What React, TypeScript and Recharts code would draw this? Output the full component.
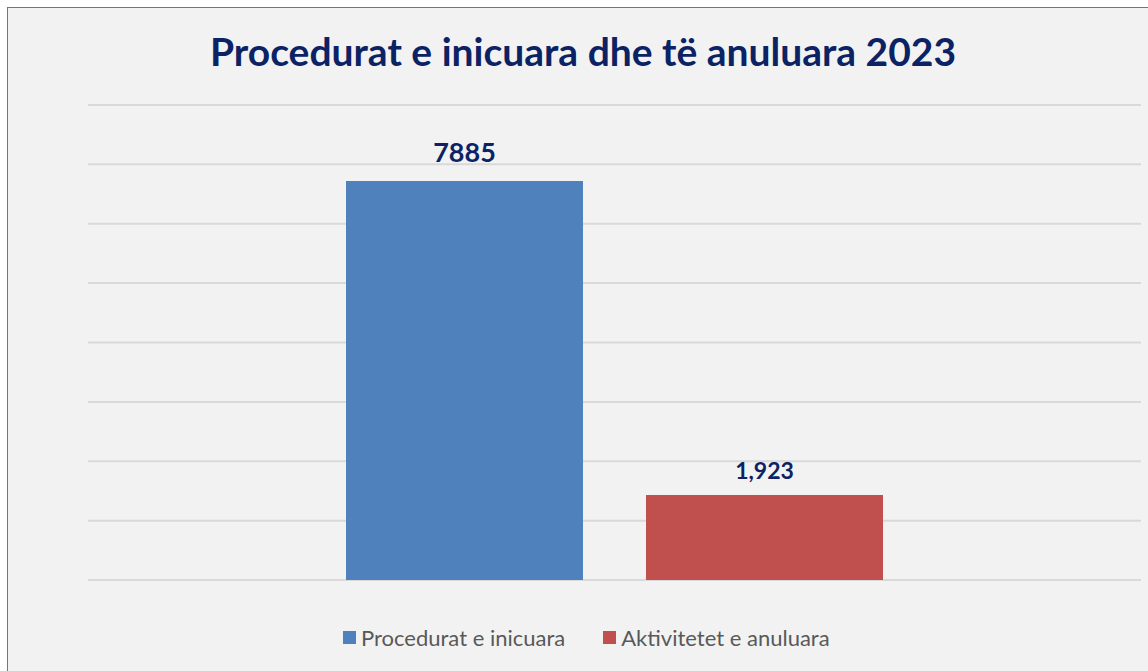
import React from "react";
import { BarChart, Bar, XAxis, YAxis, CartesianGrid, LabelList } from "recharts";

const TITLE = "Procedurat e inicuara dhe të anuluara 2023";
const CATEGORIES = ["2023"];
const INICUARA = [7885];
const ANULUARA = [1923];
const SERIES_NAMES = ["Procedurat e inicuara", "Aktivitetet e anuluara"];
const SERIES_COLORS = ["#4f81bd", "#c0504d"];
// hidden value axis, grid lines only
const Y_DOMAIN = [309, 9328];
const Y_TICKS = [309, 1436, 2564, 3691, 4819, 5946, 7073, 8201, 9328];

const data = CATEGORIES.map((c, i) => ({ name: c, inicuara: INICUARA[i], anuluara: ANULUARA[i] }));

const FONT = "Lato, 'Open Sans', sans-serif";
const NAVY = "#0b2364";

export default function App() {
  return (
    <div style={{ position: "fixed", inset: 0, overflow: "hidden", background: "#fff" }}>
      <div style={{ position: "absolute", left: 7, top: 7, width: 1150, height: 700,
        border: "1px solid #4a7ebb", background: "#f2f2f2" }}>
        <div style={{ position: "absolute", top: 20, left: 0, width: 1150, textAlign: "center",
          fontFamily: FONT, fontWeight: 700, fontSize: 39, color: NAVY }}>
          {TITLE}
        </div>
        <BarChart width={1150} height={680} data={data}
          margin={{ top: 97, right: 17, left: 80, bottom: 108 }}
          barSize={237} barGap={63}>
          <CartesianGrid vertical={false} stroke="#d9d9d9" strokeWidth={2} />
          <XAxis dataKey="name" hide />
          <YAxis hide domain={Y_DOMAIN} ticks={Y_TICKS} allowDataOverflow />
          <Bar dataKey="inicuara" name={SERIES_NAMES[0]} fill={SERIES_COLORS[0]} isAnimationActive={false}>
            <LabelList dataKey="inicuara" position="top" offset={19}
              style={{ fontFamily: FONT, fontWeight: 700, fontSize: 27, fill: NAVY }} />
          </Bar>
          <Bar dataKey="anuluara" name={SERIES_NAMES[1]} fill={SERIES_COLORS[1]} isAnimationActive={false}>
            <LabelList dataKey="anuluara" position="top" offset={16}
              formatter={(v: unknown) => Number(v).toLocaleString("en-US")}
              style={{ fontFamily: FONT, fontWeight: 700, fontSize: 23, fill: NAVY }} />
          </Bar>
        </BarChart>
        {/* legend */}
        <div style={{ position: "absolute", top: 616, left: 335, display: "flex", gap: 38,
          fontFamily: FONT, fontSize: 22, color: "#595959" }}>
          {SERIES_NAMES.map((n, i) => (
            <div key={n} style={{ display: "flex", alignItems: "center", gap: 5 }}>
              <span style={{ width: 13, height: 13, background: SERIES_COLORS[i], display: "inline-block" }} />
              <span>{n}</span>
            </div>
          ))}
        </div>
      </div>
    </div>
  );
}
